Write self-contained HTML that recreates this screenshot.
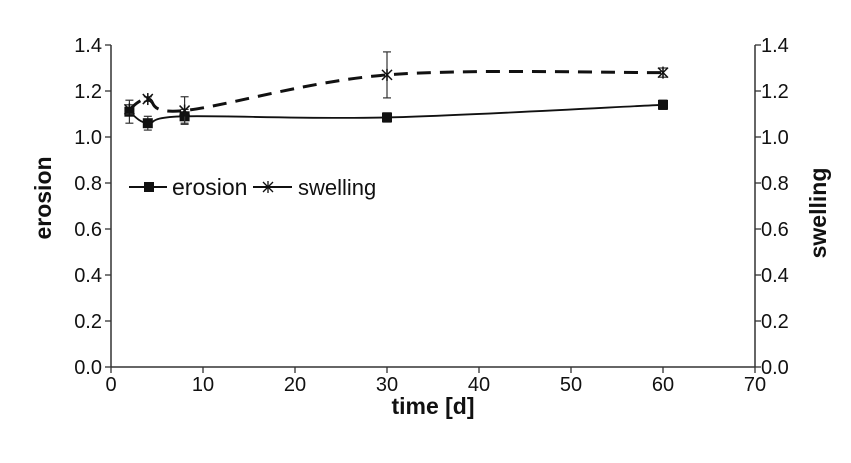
<!DOCTYPE html>
<html><head><meta charset="utf-8"><style>
html,body{margin:0;padding:0;background:#fff;}
svg text{font-family:"Liberation Sans",Arial,sans-serif;fill:#111;}
</style></head><body>
<svg id="chart" width="851" height="458" viewBox="0 0 851 458">
<g id="axes"></g><g id="series"></g>
<g>
 <line x1="129" y1="187" x2="167" y2="187" stroke="#111" stroke-width="2"/>
 <rect x="144" y="182" width="10" height="10" fill="#111"/>
 <text x="172" y="195" font-size="23">erosion</text>
 <line x1="253" y1="187" x2="292" y2="187" stroke="#111" stroke-width="2"/>
 <g stroke="#111" stroke-width="1.3">
  <line x1="263" y1="182" x2="273" y2="192"/><line x1="263" y1="192" x2="273" y2="182"/><line x1="268" y1="181" x2="268" y2="193"/>
 </g>
 <text x="298" y="195" font-size="22">swelling</text>
</g>
<text x="433" y="414" font-size="23" font-weight="bold" text-anchor="middle">time [d]</text>
<text transform="translate(51,198) rotate(-90)" font-size="23" font-weight="bold" text-anchor="middle">erosion</text>
<text transform="translate(826,213) rotate(-90)" font-size="23" font-weight="bold" text-anchor="middle">swelling</text>
</svg>
<script>
const days=[2,4,8,30,60];
const erosion=[1.11,1.06,1.09,1.085,1.14];
const erosionErr=[0.05,0.03,0.03,0.02,0.02];
const swelling=[1.12,1.165,1.115,1.27,1.28];
const swellingErr=[0.02,0.01,0.06,0.10,0.02];
const xTicks=[0,10,20,30,40,50,60,70];
const yTicks=[0,0.2,0.4,0.6,0.8,1.0,1.2,1.4];
const NS='http://www.w3.org/2000/svg';
const X0=111,X1=755,Y0=367,Y1=45;
const xs=v=>X0+(X1-X0)*v/70;
const ys=v=>Y0-(Y0-Y1)*v/1.4;
function mk(t,a,p){const e=document.createElementNS(NS,t);for(const k in a)e.setAttribute(k,a[k]);p.appendChild(e);return e;}
const ax=document.getElementById('axes'),sr=document.getElementById('series');
let l;
l=mk('line',{x1:X0,y1:Y1,x2:X0,y2:Y0,stroke:'#333','stroke-width':1.5},ax);


l=mk('line',{x1:X1,y1:Y1,x2:X1,y2:Y0,stroke:'#333','stroke-width':1.5},ax);


l=mk('line',{x1:X0,y1:Y0,x2:X1,y2:Y0,stroke:'#333','stroke-width':1.5},ax);


xTicks.forEach(v=>{mk('line',{x1:xs(v),y1:Y0,x2:xs(v),y2:Y0+6,stroke:'#333','stroke-width':1.3},ax);
 const t=mk('text',{x:xs(v),y:Y0+24,'font-size':20,'text-anchor':'middle'},ax);t.textContent=v;
 
 });
yTicks.forEach(v=>{const y=ys(v);
 mk('line',{x1:X0-6,y1:y,x2:X0,y2:y,stroke:'#333','stroke-width':1.3},ax);
 mk('line',{x1:X1,y1:y,x2:X1+6,y2:y,stroke:'#333','stroke-width':1.3},ax);
 let t=mk('text',{x:X0-9,y:y+7,'font-size':20,'text-anchor':'end'},ax);t.textContent=v.toFixed(1);
 
 
 t=mk('text',{x:X1+6,y:y+7,'font-size':20},ax);t.textContent=v.toFixed(1);
 
 });
function smooth(pts){let d='M'+pts[0][0]+','+pts[0][1];
 for(let i=0;i<pts.length-1;i++){const p0=pts[i-1]||pts[i],p1=pts[i],p2=pts[i+1],p3=pts[i+2]||p2;
  const c1=[p1[0]+(p2[0]-p0[0])/6,p1[1]+(p2[1]-p0[1])/6],c2=[p2[0]-(p3[0]-p1[0])/6,p2[1]-(p3[1]-p1[1])/6];
  d+=' C'+c1+' '+c2+' '+p2;}return d;}
function series(vals,errs,name,dash){
 const pts=days.map((d,i)=>[xs(d),ys(vals[i])]);
 const p=mk('path',{d:smooth(pts),fill:'none',stroke:'#111','stroke-width':dash?3:1.8,'stroke-dasharray':dash?'14,9':'none'},sr);
 
 
 days.forEach((d,i)=>{const x=xs(d),y=ys(vals[i]),a=ys(vals[i]+errs[i]),b=ys(vals[i]-errs[i]);
  const g=mk('g',{stroke:'#333','stroke-width':1.2},sr);
  
  
  mk('line',{x1:x,y1:a,x2:x,y2:b},g);mk('line',{x1:x-4,y1:a,x2:x+4,y2:a},g);mk('line',{x1:x-4,y1:b,x2:x+4,y2:b},g);
  let m;
  if(!dash){m=mk('rect',{x:x-5,y:y-5,width:10,height:10,fill:'#111'},sr);}
  else{m=mk('g',{stroke:'#111','stroke-width':1.5},sr);
   mk('line',{x1:x-5,y1:y-5,x2:x+5,y2:y+5},m);mk('line',{x1:x-5,y1:y+5,x2:x+5,y2:y-5},m);mk('line',{x1:x,y1:y-6,x2:x,y2:y+6},m);}
  
  });}
series(erosion,erosionErr,'erosion',false);
series(swelling,swellingErr,'swelling',true);
</script>
</body></html>
